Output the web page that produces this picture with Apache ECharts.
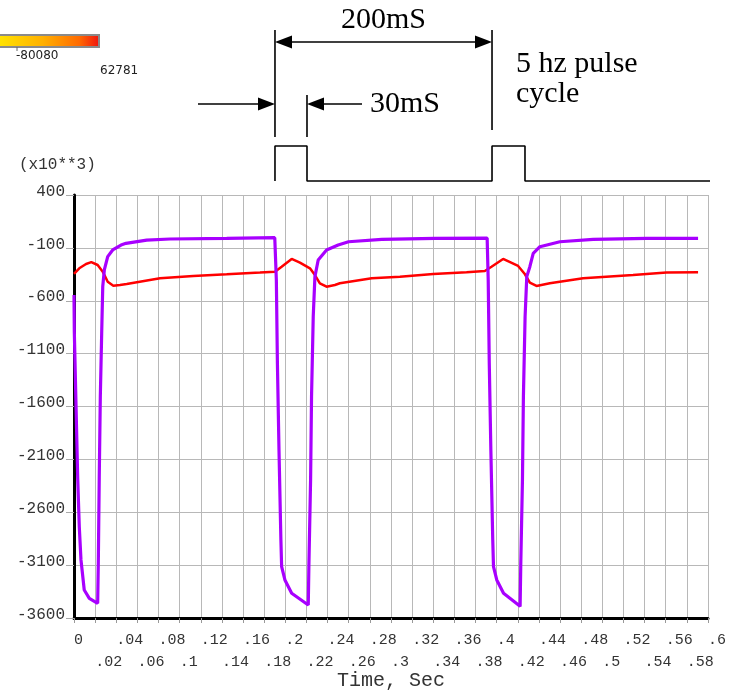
<!DOCTYPE html>
<html><head><meta charset="utf-8">
<script src="https://cdn.jsdelivr.net/npm/echarts@6/dist/echarts.min.js"></script>
<style>html,body{margin:0;padding:0;background:#fff}#c{width:738px;height:693px}</style>
</head><body><div id="c"></div>
<script>
// ---- data ----
const xTickLabels = ['0','.02','.04','.06','.08','.1','.12','.14','.16','.18','.2','.22','.24','.26','.28','.3','.32','.34','.36','.38','.4','.42','.44','.46','.48','.5','.52','.54','.56','.58','.6'];
const xMin = 0, xMax = 0.6, xStep = 0.02;
const yMin = -3600, yMax = 400, yStep = 500;
const yUnitLabel = '(x10**3)';
const xTitle = 'Time, Sec';

const purpleT = [0,0.0003,0.0019,0.0035,0.005,0.0066,0.0097,0.0145,0.0224,0.023,0.0239,0.0249,0.0262,0.0272,0.0287,0.0319,0.0366,0.0445,0.0492,0.0688,0.0908,0.1445,0.19,
  0.1911,0.1915,0.1925,0.194,0.1958,0.1965,0.1996,0.206,0.2217,0.2223,0.2239,0.2248,0.2264,0.228,0.2311,0.239,0.25,0.2598,0.2913,0.3418,0.391,
  0.3913,0.392,0.393,0.3945,0.3963,0.397,0.4001,0.4065,0.4222,0.4228,0.4244,0.4253,0.4269,0.4285,0.4314,0.4346,0.4409,0.4598,0.4913,0.5418,0.5906];
const purpleV = [-546,-893,-1586,-2279,-2737,-3051,-3335,-3414,-3461,-3083,-2264,-1507,-908,-467,-309,-183,-120,-73,-57,-26,-16,-10,-4,
  -8,-404,-1192,-2011,-2862,-3115,-3240,-3366,-3477,-3100,-2295,-1507,-751,-372,-215,-120,-73,-42,-19,-10,-8,
  -8,-404,-1192,-2011,-2862,-3115,-3240,-3366,-3490,-3100,-2295,-1507,-751,-372,-278,-152,-89,-42,-19,-10,-10];

const redT = [0,0.005,0.0114,0.0164,0.0224,0.0272,0.0319,0.0372,0.0435,0.0499,0.0814,0.1129,0.1445,0.176,0.1902,
  0.1965,0.206,0.2138,0.2233,0.228,0.2327,0.239,0.2469,0.2516,0.2818,0.3084,0.34,0.3715,0.3888,
  0.3951,0.4061,0.4203,0.4266,0.4314,0.4377,0.4503,0.4818,0.5291,0.5607,0.5906];
const redV = [-345,-293,-252,-235,-262,-325,-420,-458,-450,-441,-388,-366,-350,-334,-325,
  -278,-205,-240,-293,-357,-435,-467,-451,-435,-388,-372,-347,-331,-319,
  -278,-205,-271,-347,-429,-460,-435,-388,-357,-334,-331];

// 5 Hz drive pulse (schematic): time, level
const pulseT = [0.1902,0.1902,0.2205,0.2205,0.3956,0.3956,0.4268,0.4268,0.604];
const pulseLevel = [0,1,1,0,0,1,1,0,0];

const colorbarLabels = ['-80080','62781'];
const annot = {period:'200mS', width:'30mS', line1:'5 hz pulse', line2:'cycle'};

// ---- chart ----
const zip = (a,b) => a.map((v,i)=>[v,b[i]]);
const chart = echarts.init(document.getElementById('c'), null, {renderer:'canvas'});
const mono = 'Liberation Mono, DejaVu Sans Mono, monospace';
const serif = 'Liberation Serif, Times New Roman, serif';

const L = 74, R = 30, T = 195, B = 75;
const pxPerUnit = (738 - L - R) / (xMax - xMin);
const off = xStep * pxPerUnit;   // second label row sits one step to the right

const labelStyle = {fontFamily:mono, fontSize:15, color:'#333'};

chart.setOption({
  animation:false,
  backgroundColor:'#fff',
  grid:[
    {left:L, right:R, top:T, bottom:B, outerBoundsMode:'none'},
    {left:L, right:R, top:146, height:35, outerBoundsMode:'none'},
    {left:L+off, right:R+off, top:T, bottom:B, outerBoundsMode:'none'}
  ],
  xAxis:[
    {type:'value', gridIndex:0, min:xMin, max:xMax, interval:xStep,
     axisLine:{onZero:false, lineStyle:{color:'#000', width:3}},
     axisTick:{show:true, length:5, lineStyle:{color:'#999'}},
     splitLine:{show:true, lineStyle:{color:'#b8b8b8', width:1}},
     axisLabel:Object.assign({interval:0, align:'left', margin:15, hideOverlap:false,
       formatter:(v)=>{const i=Math.round((v-xMin)/xStep); return i%2 ? '' : xTickLabels[i];}}, labelStyle),
     name:xTitle, nameLocation:'middle', nameGap:53,
     nameTextStyle:{fontFamily:mono, fontSize:20, color:'#333'}},
    {type:'value', gridIndex:1, min:xMin, max:xMax, show:false},
    {type:'value', gridIndex:2, min:xMin+xStep, max:xMax-xStep, interval:2*xStep, position:'bottom',
     axisLine:{show:false, onZero:false}, axisTick:{show:false}, splitLine:{show:false},
     axisLabel:Object.assign({interval:0, align:'left', margin:37, hideOverlap:false,
       formatter:(v)=>xTickLabels[Math.round((v-xMin)/xStep)]}, labelStyle)}
  ],
  yAxis:[
    {type:'value', gridIndex:0, min:yMin, max:yMax, interval:yStep,
     axisLine:{show:true, onZero:false, lineStyle:{color:'#000', width:3}},
     axisTick:{show:true, length:8, lineStyle:{color:'#aaa'}},
     splitLine:{show:true, lineStyle:{color:'#b8b8b8', width:1}},
     axisLabel:{margin:9, fontFamily:mono, fontSize:16, color:'#333',
       formatter:(v)=>'{a|'+String(Math.round(v))+'}',
       rich:{a:{fontFamily:mono, fontSize:16, color:'#333', padding:[0,0,7,0]}}}},
    {type:'value', gridIndex:1, min:0, max:1, show:false},
    {type:'value', gridIndex:2, min:yMin, max:yMax, show:false}
  ],
  series:[
    {type:'line', name:'red', data:zip(redT,redV), symbol:'none', lineStyle:{color:'#ff0000', width:2.5}, z:3},
    {type:'line', name:'purple', data:zip(purpleT,purpleV), symbol:'none', lineStyle:{color:'#a800ff', width:3.2}, z:4},
    {type:'line', name:'pulse', xAxisIndex:1, yAxisIndex:1, data:zip(pulseT,pulseLevel), symbol:'none', clip:false,
     lineStyle:{color:'#000', width:1.6}, z:2}
  ]
});

// ---- annotation drawn from the pulse times ----
const X = t => chart.convertToPixel({xAxisIndex:1}, t);
const yHi = chart.convertToPixel({yAxisIndex:1}, 1);
const x1 = X(pulseT[1]), x2 = X(pulseT[2]), x3 = X(pulseT[5]);
const ln = (xa,ya,xb,yb) => ({type:'line', shape:{x1:xa,y1:ya,x2:xb,y2:yb}, style:{stroke:'#000', lineWidth:1.6}});
const arrow = (xt,y,dir) => ({type:'polygon', shape:{points:[[xt,y],[xt-dir*17,y-6.5],[xt-dir*17,y+6.5]]}, style:{fill:'#000'}});
const txt = (s,x,y,size,align) => ({type:'text', x:x, y:y, style:{text:s, font:size+'px '+serif, fill:'#000', align:align||'left', verticalAlign:'middle'}});
const yArr1 = 42, yArr2 = 104;

chart.setOption({graphic:[
  // colorbar
  {type:'rect', shape:{x:-3, y:35, width:102, height:12}, style:{
     fill:new echarts.graphic.LinearGradient(0,0,1,0,[{offset:0,color:'#ffe600'},{offset:0.45,color:'#ffb000'},{offset:0.8,color:'#ff6a00'},{offset:1,color:'#f01010'}]),
     stroke:'#8a8a8a', lineWidth:2}},
  {type:'line', shape:{x1:17,y1:47,x2:17,y2:51}, style:{stroke:'#666', lineWidth:1}},
  {type:'text', x:16, y:56, style:{text:colorbarLabels[0], font:'12px DejaVu Sans', fill:'#222', verticalAlign:'middle'}},
  {type:'text', x:100, y:71, style:{text:colorbarLabels[1], font:'12px DejaVu Sans', fill:'#222', verticalAlign:'middle'}},
  // unit label
  {type:'text', x:19, y:165, style:{text:yUnitLabel, font:'16px '+mono, fill:'#333', verticalAlign:'middle'}},
  // dimension lines
  ln(x1,30,x1,yHi-9), ln(x2,95,x2,yHi-9), ln(x3,30,x3,130),
  ln(x1+10,yArr1,x3-10,yArr1), arrow(x1,yArr1,-1), arrow(x3,yArr1,1),
  ln(198,yArr2,x1-10,yArr2), arrow(x1,yArr2,1),
  ln(x2+10,yArr2,362,yArr2), arrow(x2,yArr2,-1),
  txt(annot.period,(x1+x3)/2,20,30,'center'),
  txt(annot.width,370,yArr2,30),
  txt(annot.line1,x3+24,64,30),
  txt(annot.line2,x3+24,94,30)
]});
</script>
</body></html>
